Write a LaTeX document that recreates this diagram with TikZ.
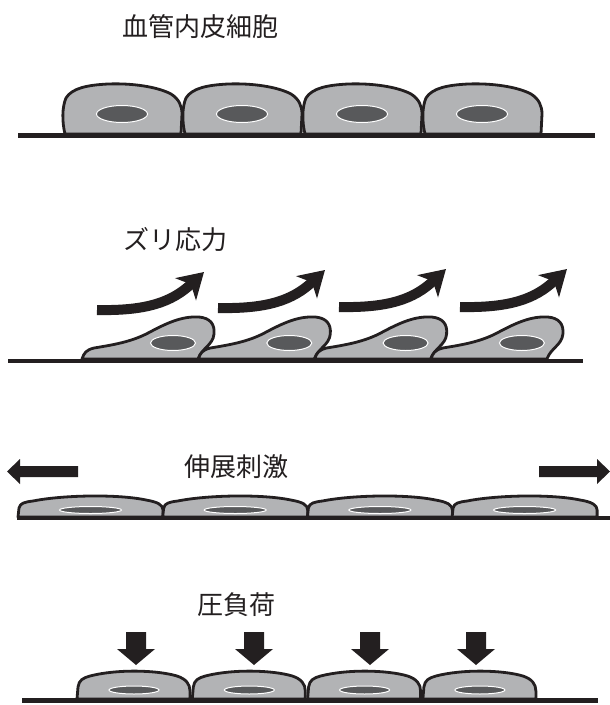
\documentclass[tikz,border=0pt]{standalone}
\usepackage{fontspec}
\newfontfamily\jp{Noto Sans CJK JP}
\usetikzlibrary{arrows.meta}
\definecolor{ink}{HTML}{231F20}
\definecolor{cellgray}{HTML}{B2B3B5}
\definecolor{nucgray}{HTML}{58595B}
\tikzset{
  membrane/.style={draw=ink, fill=cellgray, line width=2.8pt, line join=round},
  nucleus/.style={draw=white, fill=nucgray, line width=1pt},
  ground/.style={draw=ink, line width=4.5pt},
  blockarrow/.style={fill=ink},
  shearflow/.style={draw=ink, line width=10pt,
    -{Stealth[length=25pt,width=30pt,inset=7pt]}},
  caption/.style={font=\jp\fontsize{26pt}{30pt}\selectfont, text=ink, inner sep=0pt},
  % resting endothelial cell
  pics/cuboidal/.style={code={
    \path[membrane] (2,0) .. controls (-1,-12) and (-1,-27) .. (3,-36)
      .. controls (9,-46) and (25,-49) .. (45,-50)
      .. controls (70,-51) and (95,-47) .. (108,-40)
      .. controls (116,-35) and (119,-28) .. (119,-20) -- (118,0) -- cycle;
    \path[nucleus] (59,-20) ellipse [x radius=25.5pt, y radius=8.5pt];
  }},
  % cell elongated under shear stress
  pics/sheared/.style={code={
    \path[membrane] (0,-1) .. controls (2,-7) and (4,-10) .. (12,-12)
      .. controls (30,-15) and (50,-18) .. (68,-28)
      .. controls (85,-37) and (100,-44) .. (117,-43)
      .. controls (128,-42) and (133,-36) .. (132,-26)
      .. controls (131,-15) and (120,-12) .. (116,-1) -- cycle;
    \path[nucleus] (91,-17) ellipse [x radius=22.5pt, y radius=7.5pt];
  }},
  % cell flattened by stretch
  pics/stretched/.style={code={
    \path[membrane] (0,0) -- (1,-9) .. controls (2,-14) and (7,-15) .. (15,-16)
      .. controls (45,-22) and (100,-23) .. (128,-17)
      .. controls (140,-15) and (145,-12) .. (145,-7) -- (145,0) -- cycle;
    \path[nucleus] (72.5,-7) ellipse [x radius=31pt, y radius=3.5pt];
  }},
  % cell under pressure load
  pics/pressed/.style={code={
    \path[membrane] (0,0) -- (1,-12) .. controls (2,-19) and (6,-21) .. (13,-23)
      .. controls (40,-30) and (80,-29) .. (100,-23)
      .. controls (109,-20) and (113,-15) .. (113,-8) -- (113,0) -- cycle;
    \path[nucleus] (57,-9) ellipse [x radius=25pt, y radius=4pt];
  }},
  pics/downpush/.style={code={
    \path[blockarrow] (-10,0) -- (10,0) -- (10,17) -- (19,17) -- (0,33)
      -- (-19,17) -- (-10,17) -- cycle;
  }},
  pics/shearpush/.style={code={
    \draw[shearflow] (0,0) .. controls (50,1) and (75,-8) .. (107,-38);
  }}
}
\begin{document}
\begin{tikzpicture}[x=1pt,y=-1pt]
\useasboundingbox (0,0) rectangle (610,705);

% ---- resting endothelium ----
\node[caption] (t1) at (200,27) {血管内皮細胞};
\foreach \i in {0,...,3} \pic at (63+120*\i,134) {cuboidal};
\draw[ground] (18,135.5) -- (595,135.5);

% ---- shear stress ----
\node[caption] (t2) at (175,240) {ズリ応力};
\foreach \i/\y in {0/310,1/308,2/307,3/307} \pic at (97+121*\i,\y) {shearpush};
\foreach \i in {0,...,3} \pic at (82+116.3*\i,360) {sheared};
\draw[ground] (8,361) -- (583,361);

% ---- stretch ----
\node[caption] (t3) at (236,467) {伸展刺激};
\path[blockarrow] (78,466) -- (20,466) -- (20,459) -- (7,471.5) -- (20,484)
  -- (20,477) -- (78,477) -- cycle;
\path[blockarrow] (539,466) -- (597,466) -- (597,459) -- (610,471.5) -- (597,484)
  -- (597,477) -- (539,477) -- cycle;
\foreach \i in {0,...,3} \pic at (18+144.7*\i,517) {stretched};
\draw[ground] (17,518) -- (610,518);

% ---- pressure load ----
\node[caption] (t4) at (236,605) {圧負荷};
\foreach \x in {136,254,370,476} \pic at (\x,632) {downpush};
\foreach \i in {0,...,3} \pic at (77+115.3*\i,699) {pressed};
\draw[ground] (22,700.5) -- (598,700.5);
\end{tikzpicture}
\end{document}
